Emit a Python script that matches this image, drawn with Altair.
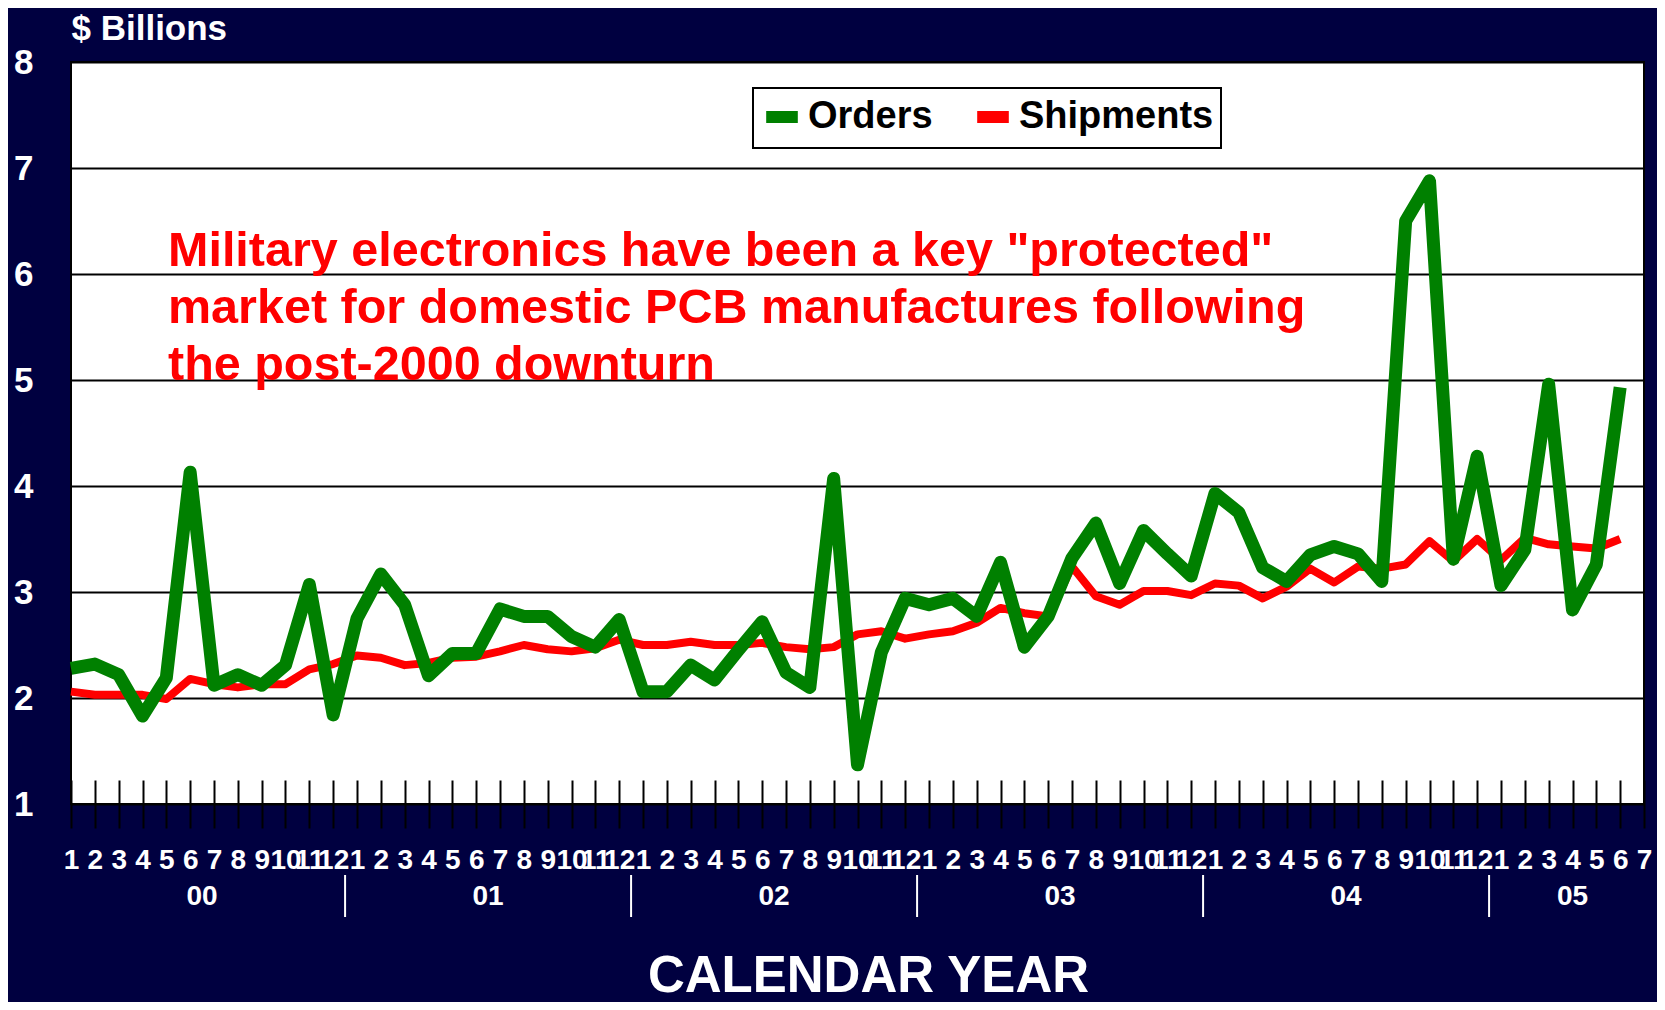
import json
import altair as alt
import pandas as pd

# ---------------- data ----------------
months = [str(m) for m in range(1, 13)] * 5 + [str(m) for m in range(1, 8)]
years = ["00", "01", "02", "03", "04", "05"]
months_per_year = [12, 12, 12, 12, 12, 7]

orders = [
    2.28, 2.32, 2.22, 1.83, 2.19, 4.13, 2.12, 2.22, 2.12, 2.31, 3.07, 1.84,
    2.75, 3.17, 2.88, 2.21, 2.42, 2.42, 2.84, 2.77, 2.77, 2.58, 2.48, 2.74,
    2.06, 2.06, 2.31, 2.17, 2.45, 2.72, 2.24, 2.10, 4.07, 1.37, 2.43, 2.94,
    2.88, 2.94, 2.77, 3.28, 2.48, 2.77, 3.32, 3.65, 3.08, 3.58, 3.36, 3.15,
    3.93, 3.75, 3.23, 3.10, 3.35, 3.43, 3.36, 3.10, 6.50, 6.88, 3.31, 4.28,
    3.06, 3.40, 4.96, 2.83, 3.26, 4.93,
]
shipments = [
    2.06, 2.03, 2.03, 2.03, 1.99, 2.18, 2.13, 2.10, 2.13, 2.13, 2.27, 2.32,
    2.40, 2.38, 2.31, 2.33, 2.38, 2.39, 2.44, 2.50, 2.46, 2.44, 2.47, 2.55,
    2.50, 2.50, 2.53, 2.50, 2.50, 2.52, 2.48, 2.46, 2.48, 2.60, 2.63, 2.56,
    2.60, 2.63, 2.71, 2.85, 2.80, 2.77, 3.24, 2.96, 2.88, 3.01, 3.01, 2.97,
    3.08, 3.06, 2.94, 3.05, 3.22, 3.09, 3.24, 3.22, 3.26, 3.48, 3.29, 3.50,
    3.30, 3.51, 3.45, 3.43, 3.41, 3.50,
]
series_names = ["Orders", "Shipments"]
series_colors = ["#008000", "#FF0000"]
y_ticks = [1, 2, 3, 4, 5, 6, 7, 8]
annotation_lines = [
    'Military electronics have been a key "protected"',
    "market for domestic PCB manufactures following",
    "the post-2000 downturn",
]

# ---------------- tables ----------------
lines_df = pd.DataFrame({
    "idx": list(range(len(shipments))) + list(range(len(orders))),
    "value": shipments + orders,
    "series": ["Shipments"] * len(shipments) + ["Orders"] * len(orders),
})

starts = []
s = 0
for n in months_per_year:
    starts.append(s)
    s += n
year_df = pd.DataFrame({
    "idx": [st + (n - 1) / 2 for st, n in zip(starts, months_per_year)],
    "label": years,
})
sep_df = pd.DataFrame({"idx": [st - 0.5 for st in starts[1:]]})
note_df = pd.DataFrame({"k": [0]})

FONT = "Liberation Sans, Arial, Helvetica, sans-serif"
NAVY = "#000040"
W, H = 1573, 742

x_axis = alt.Axis(
    values=list(range(len(months))),
    labelExpr=json.dumps(months) + "[datum.value]",
    offset=-24, tickSize=48, tickColor="black", tickWidth=2,
    domain=False, grid=False,
    labelColor="white", labelFont=FONT, labelFontWeight="bold",
    labelFontSize=28, labelBaseline="middle", labelPadding=32,
    labelOverlap=False, labelFlush=False, labelBound=False,
    title="CALENDAR YEAR", titleColor="white", titleFont=FONT,
    titleFontWeight="bold", titleFontSize=51,
    titleX=797, titleY=211, titleAlign="center", titleBaseline="alphabetic",
)
x_enc = alt.X("idx:Q", scale=alt.Scale(domain=[0, len(months) - 1], nice=False, zero=False), axis=x_axis)

y_axis = alt.Axis(
    values=y_ticks, grid=True, gridColor="black", gridWidth=2,
    ticks=False, domain=False,
    labelColor="white", labelFont=FONT, labelFontWeight="bold",
    labelFontSize=35, labelPadding=38,
    title="$ Billions", titleAngle=0, titleAlign="left", titleBaseline="alphabetic",
    titleX=0, titleY=-23, titleColor="white", titleFont=FONT,
    titleFontWeight="bold", titleFontSize=35,
)
y_enc = alt.Y("value:Q", scale=alt.Scale(domain=[1, 8], nice=False, zero=False), axis=y_axis)

color_enc = alt.Color(
    "series:N",
    scale=alt.Scale(domain=series_names, range=series_colors),
    legend=alt.Legend(
        orient="none", legendX=682, legendY=26, direction="horizontal",
        title=None, labelFont=FONT, labelFontSize=38, labelFontWeight="bold",
        labelColor="black", labelLimit=400, symbolType="stroke", symbolSize=1000,
        symbolStrokeWidth=12, labelOffset=4, columnPadding=20, padding=7,
        fillColor="white", strokeColor="black",
    ),
)

base = alt.Chart(lines_df)
ship_line = base.transform_filter("datum.series == 'Shipments'").mark_line(
    strokeWidth=8, strokeJoin="round"
).encode(x=x_enc, y=y_enc, color=color_enc)
order_line = base.transform_filter("datum.series == 'Orders'").mark_line(
    strokeWidth=13, strokeJoin="round"
).encode(x=x_enc, y=y_enc, color=color_enc)

note = alt.Chart(note_df).mark_text(
    text=annotation_lines, align="left", baseline="alphabetic", font=FONT,
    fontWeight="bold", fontSize=48.5, color="#FF0000", lineHeight=57,
).encode(x=alt.value(97), y=alt.value(204))

year_text = alt.Chart(year_df).mark_text(
    font=FONT, fontWeight="bold", fontSize=28, color="white", baseline="middle", align="center"
).encode(x=x_enc, y=alt.value(835), text="label:N")

sep_rule = alt.Chart(sep_df).mark_rule(color="white", strokeWidth=2).encode(
    x=x_enc, y=alt.value(813), y2=alt.value(855)
)

chart = alt.layer(note, ship_line, order_line, year_text, sep_rule).properties(
    width=W, height=H, background=NAVY,
    padding={"left": 63, "top": 54, "right": 13, "bottom": 198},
    autosize=alt.AutoSizeParams(type="none"),
).configure_view(
    stroke="black", strokeWidth=2, fill="white"
).configure_legend(strokeWidth=2)

chart.save("out.html", embed_options={"renderer": "svg", "actions": False})
